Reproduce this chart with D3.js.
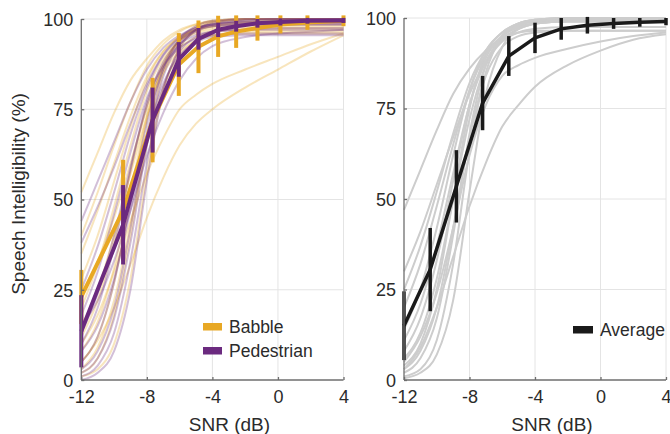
<!DOCTYPE html>
<html>
<head>
<meta charset="utf-8">
<script src="https://cdn.jsdelivr.net/npm/d3@7"></script>
<style>
  html, body { margin: 0; padding: 0; background: #fff; }
  svg { display: block; font-family: "Liberation Sans", Arial, Helvetica, sans-serif; }
</style>
</head>
<body>
<svg id="chart" width="670" height="434"></svg>
<script>
// Axis ticks
const xTicks = [-12, -8, -4, 0, 4];
const yTicks = [0, 25, 50, 75, 100];

// SNR values at which each listener's fitted curve is sampled
const snrSamples = [-12, -11, -10, -9, -8, -7, -6, -5, -4, -2, 0, 2, 4];

// Per-listener intelligibility curves (%), babble noise
const babbleCurves = [
  [52, 63, 74, 83, 89, 94, 97, 98.5, 99.3, 100, 100, 100, 100],
  [35, 47, 60, 73, 84, 91, 95, 97, 98, 99, 99.5, 99.5, 99.5],
  [5, 11, 20, 32, 45, 56, 65, 71, 75, 81, 86, 91, 95.5],
  [10, 18, 30, 44, 57, 67, 75, 79, 82, 86, 89.5, 93, 96],
  [2, 6, 18, 40, 66, 85, 94, 98, 99.5, 100, 100, 100, 100],
  [5, 12, 27, 50, 72, 87, 94, 97, 98.5, 99, 99, 99, 99],
  [12, 22, 38, 58, 76, 88, 94, 96.5, 97.5, 98, 98, 98, 98],
  [20, 32, 48, 65, 80, 89, 94, 96, 97, 97.5, 97.5, 97.5, 97.5],
  [1, 3, 10, 28, 57, 80, 92, 97, 99, 100, 100, 100, 100],
  [28, 40, 55, 70, 83, 91, 95, 97, 98, 98.5, 98.5, 98.5, 98.5],
  [15, 25, 40, 57, 73, 85, 91, 94, 95.5, 96.5, 96.5, 96.5, 96.5],
  [3, 9, 22, 43, 65, 81, 90, 94, 95.5, 96, 96, 96, 96],
  [40, 52, 65, 77, 87, 93, 96.5, 98.5, 99.5, 100, 100, 100, 100],
  [8, 16, 31, 52, 73, 87, 94, 97.5, 99, 99.5, 99.5, 99.5, 99.5],
  [24, 33, 45, 60, 75, 86, 92, 95, 96.5, 97, 97, 97, 97]
];

// Per-listener intelligibility curves (%), pedestrian noise
const pedestrianCurves = [
  [44, 55, 66, 77, 86, 92, 95.5, 97.5, 98.5, 99, 99, 99, 99],
  [38, 48, 59, 71, 82, 90, 94.5, 97, 98, 98.5, 98.5, 98.5, 98.5],
  [2, 6, 17, 38, 65, 84, 93, 97, 98.5, 99.5, 100, 100, 100],
  [10, 20, 37, 58, 77, 88, 94, 97, 98.5, 99, 99, 99, 99],
  [0, 2, 8, 25, 55, 80, 92, 97, 99, 100, 100, 100, 100],
  [18, 30, 46, 63, 78, 87, 92, 94.5, 95.5, 96, 96, 96, 96],
  [5, 12, 27, 49, 71, 86, 93, 96.5, 98, 98.5, 98.5, 98.5, 98.5],
  [13, 24, 40, 59, 76, 87, 93, 95.5, 96.5, 97, 97, 97, 97],
  [1, 4, 13, 33, 60, 81, 91, 95, 96.5, 97, 97.5, 97.5, 97.5],
  [8, 15, 28, 47, 67, 82, 90, 93.5, 95, 95.5, 95.5, 95.5, 95.5],
  [25, 37, 52, 68, 81, 90, 95, 97.5, 98.5, 99.5, 99.5, 99.5, 99.5],
  [3, 8, 20, 42, 68, 86, 94.5, 98, 99.5, 100, 100, 100, 100],
  [15, 22, 33, 47, 62, 74, 83, 89, 92.5, 95, 96, 96.5, 97]
];

// Per-listener curves averaged over noise types (%)
const listenerCurves = [
  [47, 58, 69, 79, 86, 91, 94.5, 97, 98.5, 99.5, 100, 100, 100],
  [30, 41, 54, 67, 79, 88, 94, 97, 98.5, 99.5, 99.5, 99.5, 99.5],
  [3, 9, 20, 34, 48, 60, 70, 76, 81, 87, 91, 94, 95.5],
  [5, 12, 24, 42, 62, 76, 84, 87, 89, 91.5, 93.5, 95, 96],
  [1, 3, 11, 32, 63, 85, 95, 98.5, 99.5, 100, 100, 100, 100],
  [4, 10, 25, 50, 75, 90, 96, 98.5, 99.5, 100, 100, 100, 100],
  [8, 17, 33, 55, 76, 89, 95, 97.5, 98.5, 99, 99, 99, 99],
  [14, 25, 42, 62, 80, 91, 96, 98, 99, 99.5, 99.5, 99.5, 99.5],
  [0.5, 2, 7, 22, 52, 79, 92, 97, 98.5, 99, 99, 99, 99],
  [20, 32, 48, 65, 80, 90, 95, 97.5, 98.5, 99, 99, 99, 99],
  [6, 13, 28, 50, 72, 87, 93.5, 96, 97, 97.5, 97.5, 97.5, 97.5],
  [2, 6, 17, 40, 68, 87, 95, 98, 99, 99.5, 99.5, 99.5, 99.5],
  [11, 21, 37, 57, 76, 88, 94, 96, 96.5, 96.5, 96.5, 96.5, 96.5],
  [3, 8, 20, 42, 67, 84, 92, 95, 96, 96.5, 96.5, 96.5, 96.5],
  [25, 37, 52, 68, 82, 91, 96, 98.5, 99.5, 100, 100, 100, 100]
];

// Group means and error bars, left panel
const noiseSnr = [-12, -9.45, -7.65, -6.05, -4.85, -3.65, -2.55, -1.25, 0.15, 1.8, 4];
const babbleMean = [23, 47, 72, 87.4, 92.3, 95.2, 96.5, 97.5, 98.5, 99, 99.5];
const babbleErr = [7.5, 14, 11.7, 8.7, 7.3, 5.7, 4.5, 3.5, 2.5, 2, 1.5];
const pedestrianMean = [13.5, 43, 72, 88.8, 94.5, 97, 98, 98.8, 99.2, 99.5, 99.6];
const pedestrianErr = [10, 11, 9, 4.8, 3, 2, 1.5, 1.2, 1, 0.8, 0.7];

// Overall mean and error bars, right panel
const averageSnr = [-12, -10.4, -8.8, -7.2, -5.6, -4, -2.4, -0.8, 0.8, 2.4, 4];
const averageMean = [15, 30.5, 53.5, 76.5, 89.5, 94.5, 97, 98, 98.5, 98.8, 99];
const averageErr = [9.5, 11.5, 10, 7.5, 5.5, 4.2, 3, 2.3, 1.5, 1.2, 1];

const colors = {
  babble: "#E8A824",
  pedestrian: "#6B2A7F",
  listener: "#cdcdcd",
  average: "#1a1a1a",
  grid: "#e4e4e4",
  axis: "#6e6e6e",
  text: "#2b2b2b"
};

const svg = d3.select("#chart");
const tickFont = 18;
const legendFont = 17.5;
const labelFont = 19;

function makePanel(x0, x1, yTop, yBottom) {
  const x = d3.scaleLinear().domain([-12, 4]).range([x0, x1]);
  const y = d3.scaleLinear().domain([0, 100]).range([yBottom, yTop]);
  const g = svg.append("g");

  // grid
  g.append("g").selectAll("line.v").data(xTicks.filter(d => d !== -12)).join("line")
    .attr("x1", d => x(d)).attr("x2", d => x(d))
    .attr("y1", y(0)).attr("y2", y(100))
    .attr("stroke", colors.grid).attr("stroke-width", 1);
  g.append("g").selectAll("line.h").data(yTicks.filter(d => d !== 0)).join("line")
    .attr("x1", x(-12)).attr("x2", x(4))
    .attr("y1", d => y(d)).attr("y2", d => y(d))
    .attr("stroke", colors.grid).attr("stroke-width", 1);

  const marks = g.append("g");

  // axes
  const ax = g.append("g");
  const xAxis = d3.axisBottom(x).tickValues(xTicks).tickSize(-3).tickPadding(9)
    .tickFormat(d => d3.format("d")(d).replace("−", "-"));
  const yAxis = d3.axisLeft(y).tickValues(yTicks).tickSize(-3).tickPadding(8);
  const gx = ax.append("g").attr("transform", `translate(0,${y(0)})`).call(xAxis);
  const gy = ax.append("g").attr("transform", `translate(${x(-12)},0)`).call(yAxis);
  [gx, gy].forEach(a => {
    a.select(".domain").attr("stroke", colors.axis).attr("stroke-width", 1.3);
    a.selectAll(".tick line").attr("stroke", colors.axis).attr("stroke-width", 1.3);
    a.selectAll(".tick text").attr("fill", colors.text)
      .style("font-size", tickFont + "px").style("font-family", "Liberation Sans, Arial, sans-serif");
  });
  gy.select(".domain").attr("d", `M0,${y(100)}V${y(0)}`);
  gx.select(".domain").attr("d", `M${x(-12)},0H${x(4)}`);
  gy.selectAll(".tick text").attr("dy", "0.36em");
  gx.selectAll(".tick text").attr("dy", "0.8em");

  // x label
  g.append("text").attr("x", (x0 + x1) / 2 + 17).attr("y", 431)
    .attr("text-anchor", "middle").attr("fill", colors.text)
    .style("font-size", labelFont + "px").text("SNR (dB)");

  return { x, y, g, marks };
}

function drawCurves(panel, curves, color, opacity, width) {
  const line = d3.line()
    .x((d, i) => panel.x(snrSamples[i]))
    .y(d => panel.y(d))
    .curve(d3.curveMonotoneX);
  panel.marks.append("g").selectAll("path").data(curves).join("path")
    .attr("d", line)
    .attr("fill", "none")
    .attr("stroke", color)
    .attr("stroke-opacity", opacity)
    .attr("stroke-width", width);
}

function drawMean(panel, snr, mean, err, color, lineWidth, barWidth) {
  const pts = snr.map((s, i) => ({ s, m: mean[i], e: err[i] }));
  const g = panel.marks.append("g");
  g.selectAll("line").data(pts).join("line")
    .attr("x1", d => panel.x(d.s)).attr("x2", d => panel.x(d.s))
    .attr("y1", d => panel.y(d.m - d.e)).attr("y2", d => panel.y(d.m + d.e))
    .attr("stroke", color).attr("stroke-width", barWidth);
  g.append("path")
    .datum(pts)
    .attr("d", d3.line().x(d => panel.x(d.s)).y(d => panel.y(d.m)))
    .attr("fill", "none").attr("stroke", color)
    .attr("stroke-width", lineWidth).attr("stroke-linejoin", "round");
}

function drawLegend(items, x, y, swatchW, gap) {
  const g = svg.append("g");
  items.forEach((it, i) => {
    const yy = y + i * gap;
    g.append("rect").attr("x", x).attr("y", yy - 4).attr("width", swatchW).attr("height", 7.5)
      .attr("fill", it.color);
    g.append("text").attr("x", x + swatchW + 7).attr("y", yy + 6)
      .attr("fill", colors.text).style("font-size", legendFont + "px").text(it.label);
  });
}

// left panel: babble vs pedestrian
const left = makePanel(81.3, 343.5, 19, 380);
drawCurves(left, babbleCurves, colors.babble, 0.3, 2);
drawCurves(left, pedestrianCurves, colors.pedestrian, 0.3, 2);
drawMean(left, noiseSnr, babbleMean, babbleErr, colors.babble, 4, 4);
drawMean(left, noiseSnr, pedestrianMean, pedestrianErr, colors.pedestrian, 4, 4);
drawLegend([
  { label: "Babble", color: colors.babble },
  { label: "Pedestrian", color: colors.pedestrian }
], 203, 327, 19, 24);

// right panel: average over noise types
const right = makePanel(404, 666, 18, 380);
drawCurves(right, listenerCurves, colors.listener, 1, 2);
drawMean(right, averageSnr, averageMean, averageErr, colors.average, 3.5, 3.5);
drawLegend([{ label: "Average", color: colors.average }], 573, 330, 20, 24);

// y label
svg.append("text")
  .attr("transform", "translate(25,194) rotate(-90)")
  .attr("text-anchor", "middle").attr("fill", colors.text)
  .style("font-size", labelFont + "px").text("Speech Intelligibility (%)");
</script>
</body>
</html>
